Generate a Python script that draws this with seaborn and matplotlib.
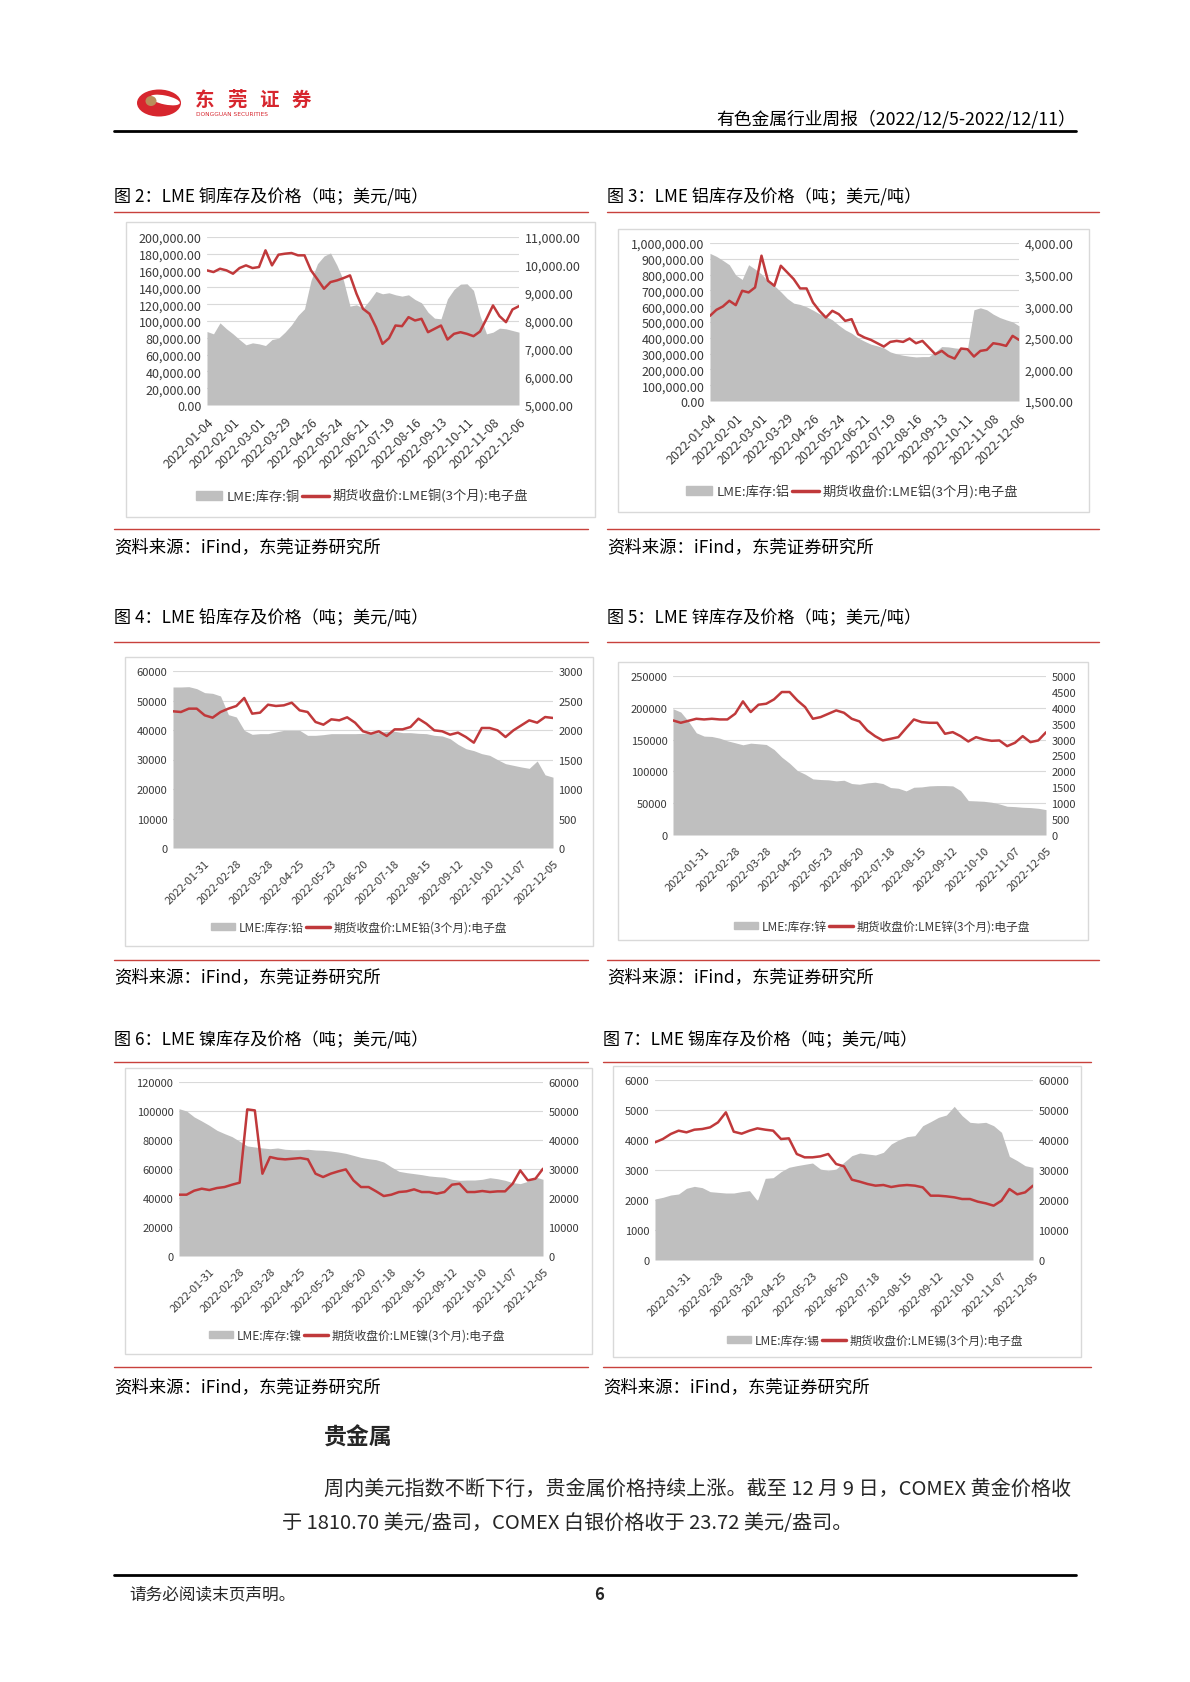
import matplotlib
matplotlib.use("Agg")
import matplotlib.pyplot as plt
import seaborn as sns
import pandas as pd
from matplotlib.patches import Rectangle, Patch, Ellipse
from matplotlib.lines import Line2D
from matplotlib.ticker import FuncFormatter, MultipleLocator

sns.set_style("white")
plt.rcParams["font.family"] = ["Noto Sans CJK SC", "DejaVu Sans"]

# ---------------- data (weekly readings) ----------------
dates_a = pd.date_range("2022-01-04", periods=49, freq="7D")   # copper / aluminium
dates_b = pd.date_range("2022-01-03", periods=49, freq="7D")   # lead / zinc / nickel / tin

cu_stock = [87500, 84700, 97800, 90700, 84700, 77900, 71600, 74000, 72800, 70800,
            77900, 79500, 86700, 95400, 106600, 114500, 148300, 168200, 177300, 181000,
            166200, 148300, 117700, 119300, 115300, 124500, 135200, 132400, 133600, 131200,
            129600, 131200, 125600, 121700, 110500, 103400, 102600, 126400, 137600, 143900,
            144300, 136400, 106600, 84700, 86700, 91500, 90700, 88700, 86700]
cu_price = [9808, 9748, 9867, 9808, 9689, 9891, 9987, 9891, 9927, 10524,
            9987, 10368, 10404, 10428, 10345, 10345, 9808, 9486, 9152, 9390,
            9450, 9533, 9629, 8973, 8436, 8257, 7780, 7183, 7386, 7839,
            7815, 8138, 8018, 8078, 7600, 7720, 7839, 7338, 7541, 7600,
            7541, 7458, 7624, 8078, 8555, 8174, 7959, 8412, 8531]

al_stock = [934400, 915400, 890000, 862500, 797000, 769500, 862500, 835000, 803300, 759000,
            729300, 691300, 649000, 619400, 611000, 596100, 575000, 551800, 534800, 513700,
            479900, 450300, 429100, 399500, 378400, 359400, 348800, 336100, 310800, 298100,
            289600, 283300, 279000, 281100, 281100, 310800, 344600, 342500, 336100, 331900,
            331900, 577100, 589800, 577100, 549600, 528500, 513700, 501000, 475600]
al_price = [2848, 2943, 2996, 3086, 3017, 3244, 3218, 3297, 3799, 3403,
            3323, 3640, 3535, 3429, 3281, 3281, 3059, 2927, 2821, 2927,
            2874, 2768, 2795, 2557, 2504, 2467, 2414, 2361, 2435, 2451,
            2435, 2488, 2414, 2451, 2346, 2240, 2293, 2213, 2171, 2330,
            2319, 2203, 2293, 2309, 2414, 2398, 2372, 2531, 2467]

pb_stock = [54580, 54580, 54690, 54010, 52660, 52430, 51530, 45200, 44410, 39890,
            38530, 38760, 38760, 39320, 39890, 39890, 39890, 38190, 38190, 38420,
            38760, 38760, 38760, 38760, 38870, 38870, 39100, 39550, 39550, 39100,
            39100, 38870, 38760, 38190, 37970, 37060, 35140, 33670, 33000, 31980,
            31410, 29950, 28590, 28020, 27460, 27000, 29500, 24800, 24000]
pb_price = [2317, 2305, 2362, 2362, 2249, 2209, 2305, 2362, 2407, 2543,
            2277, 2294, 2429, 2407, 2418, 2463, 2333, 2305, 2136, 2090,
            2181, 2164, 2215, 2124, 1978, 1938, 1978, 1898, 2011, 2011,
            2051, 2192, 2107, 1994, 1978, 1921, 1955, 1881, 1785, 2034,
            2034, 1994, 1881, 1994, 2079, 2164, 2124, 2220, 2204]

zn_stock = [198500, 193300, 178600, 160700, 155500, 154900, 152300, 148100, 145000, 141800,
            144400, 143400, 142300, 134500, 122400, 112900, 101400, 95600, 88200, 87200,
            86700, 85100, 86100, 80900, 79800, 81900, 83000, 80900, 74600, 73500,
            69300, 75100, 75600, 77200, 77700, 77700, 77200, 69900, 54100, 53600,
            53000, 51500, 48800, 45200, 44600, 43600, 43100, 42000, 39900]
zn_price = [3603, 3529, 3592, 3655, 3634, 3655, 3634, 3634, 3813, 4202,
            3866, 4097, 4128, 4265, 4496, 4496, 4233, 4023, 3655, 3708,
            3813, 3918, 3844, 3655, 3571, 3288, 3109, 2973, 3025, 3078,
            3361, 3634, 3550, 3529, 3529, 3183, 3235, 3109, 2941, 3078,
            3004, 2962, 2973, 2794, 2899, 3109, 2920, 2973, 3230]

ni_stock = [101600, 100000, 95900, 93100, 90100, 86700, 84400, 82300, 79100, 75900,
            75200, 74500, 74000, 74500, 73600, 73300, 73300, 73600, 73100, 72900,
            72400, 71700, 70800, 69400, 68000, 67100, 66400, 64800, 61400, 58400,
            57500, 56800, 56100, 55200, 54700, 54300, 52900, 52200, 52400, 52400,
            52900, 54000, 53300, 52200, 50600, 49900, 51500, 54500, 52900]
ni_price = [21140, 21140, 22520, 23210, 22750, 23440, 23780, 24590, 25280, 50560,
            50210, 28380, 34130, 33550, 33320, 33550, 33780, 33320, 28380, 27230,
            28380, 29190, 29870, 26080, 23780, 23780, 22290, 20680, 21140, 22060,
            22290, 22980, 22060, 22060, 21490, 22060, 24590, 24930, 22060, 22060,
            22410, 22060, 22290, 22290, 24930, 29530, 26080, 26660, 30100]

sn_stock = [2033, 2089, 2166, 2200, 2389, 2455, 2411, 2278, 2255, 2233,
            2233, 2278, 2311, 1978, 2722, 2744, 2944, 3089, 3144, 3189,
            3233, 3033, 2978, 3033, 3255, 3478, 3566, 3533, 3500, 3589,
            3866, 4011, 4111, 4144, 4477, 4611, 4755, 4833, 5122, 4811,
            4589, 4566, 4589, 4477, 4255, 3455, 3311, 3144, 3089]
sn_price = [39220, 40330, 42000, 43110, 42550, 43440, 43660, 44220, 45880, 49220,
            42770, 42110, 43110, 43880, 43440, 43110, 40330, 40550, 35330, 34220,
            34220, 34550, 35330, 32000, 31220, 26780, 26110, 25330, 24780, 25000,
            24330, 24780, 25000, 24780, 24220, 21440, 21440, 21220, 20890, 20330,
            20330, 19440, 18890, 18110, 19780, 23660, 21890, 22550, 24780]

# ---------------- page setup ----------------
W, H = 1190, 1683
GRAY = "#bfbfbf"
RED = "#c0393b"
RULE = "#c8413c"
TXT = "#3a3a3a"

fig = plt.figure(figsize=(W / 100, H / 100), dpi=100)
fig.patch.set_facecolor("white")


def fx(x):
    return x / W


def fy(y):
    return 1 - y / H


def rect(l, t, r, b):
    return [l / W, 1 - b / H, (r - l) / W, (b - t) / H]


def hline(x0, x1, y, color=RULE, lw=1.0):
    fig.add_artist(Line2D([fx(x0), fx(x1)], [fy(y), fy(y)], color=color, lw=lw))


def box(l, t, r, b):
    fig.add_artist(Rectangle((fx(l), fy(b)), (r - l) / W, (b - t) / H,
                             transform=fig.transFigure, fill=False, ec="#d9d9d9", lw=1))


def chart(pos, dates, stock, price, ylim_l, step_l, ylim_r, step_r, money, first_tick,
          name, tsize, dsize, leg_xy, lsize):
    ax = fig.add_axes(rect(*pos))
    ax.fill_between(dates, stock, color=GRAY, lw=0)
    ax.set_xlim(dates[0], dates[-1])
    ax.set_ylim(*ylim_l)
    ax.yaxis.set_major_locator(MultipleLocator(step_l))
    ax.grid(axis="y", color="#d9d9d9", lw=0.8)
    ax.set_axisbelow(True)
    ax2 = ax.twinx()
    sns.lineplot(x=dates, y=price, ax=ax2, color=RED, lw=1.8)
    ax2.set_ylim(*ylim_r)
    ax2.yaxis.set_major_locator(MultipleLocator(step_r))
    fmt = FuncFormatter(lambda v, p: f"{v:,.2f}" if money else f"{v:.0f}")
    ax.yaxis.set_major_formatter(fmt)
    ax2.yaxis.set_major_formatter(fmt)
    ticks = dates[first_tick::4]
    ax.set_xticks(ticks)
    ax.set_xticklabels([d.strftime("%Y-%m-%d") for d in ticks], rotation=45,
                       ha="right", rotation_mode="anchor")
    for a in (ax, ax2):
        a.set_xlabel("")
        a.set_ylabel("")
        for s in a.spines.values():
            s.set_visible(False)
        a.tick_params(length=0, labelsize=tsize, colors=TXT, pad=4)
    ax.tick_params(axis="x", pad=7, labelsize=dsize)
    handles = [Patch(color=GRAY), Line2D([], [], color=RED, lw=2.5)]
    labels = [f"LME:库存:{name}", f"期货收盘价:LME{name}(3个月):电子盘"]
    fig.legend(handles, labels, loc="center", bbox_to_anchor=(fx(leg_xy[0]), fy(leg_xy[1])),
               ncol=2, frameon=False, fontsize=lsize, handlelength=2.0, handleheight=0.6,
               handletextpad=0.3, columnspacing=0.2, labelcolor=TXT)


# ---------------- header ----------------
fig.add_artist(Ellipse((fx(159), fy(104)), 44 / W, 27 / H, transform=fig.transFigure,
                       color="#d7262e", lw=0))
fig.add_artist(Ellipse((fx(165), fy(101)), 30 / W, 9 / H, angle=-8, transform=fig.transFigure,
                       color="white", lw=0))
fig.add_artist(Ellipse((fx(151), fy(102)), 11 / W, 10 / H, transform=fig.transFigure,
                       color="#b98d5a", lw=0))
for i, ch in enumerate("东莞证券"):
    fig.text(fx(205 + 32 * i), fy(100), ch, color="#d7262e", fontsize=14, fontweight="bold",
             ha="center", va="center")
fig.text(fx(196), fy(114), "DONGGUAN SECURITIES", color="#d7262e", fontsize=4.2,
         va="center", family="DejaVu Sans")
fig.text(fx(1076), fy(119), "有色金属行业周报（2022/12/5-2022/12/11）", fontsize=12.8,
         ha="right", va="center", color="black")
hline(114, 1076, 132, color="black", lw=2)

# ---------------- chart titles / rules / sources ----------------
titles = [
    (114, 197, "图 2：LME 铜库存及价格（吨；美元/吨）"),
    (607, 197, "图 3：LME 铝库存及价格（吨；美元/吨）"),
    (114, 618, "图 4：LME 铅库存及价格（吨；美元/吨）"),
    (607, 618, "图 5：LME 锌库存及价格（吨；美元/吨）"),
    (114, 1040, "图 6：LME 镍库存及价格（吨；美元/吨）"),
    (603, 1040, "图 7：LME 锡库存及价格（吨；美元/吨）"),
]
for x, y, s in titles:
    fig.text(fx(x), fy(y), s, fontsize=12.3, va="center", color="black")

for y in (213, 530):
    hline(114, 588, y)
    hline(607, 1099, y)
for y in (643, 961):
    hline(114, 588, y)
    hline(607, 1099, y)
for y in (1063, 1368):
    hline(114, 588, y)
    hline(603, 1091, y)

for x, y in [(114, 547), (607, 547), (114, 977), (607, 977), (114, 1387), (603, 1387)]:
    fig.text(fx(x), fy(y), "资料来源：iFind，东莞证券研究所", fontsize=12.5, va="center",
             color="black")

box(126, 223, 595, 518)
box(618, 230, 1089, 513)
box(125, 658, 593, 947)
box(618, 663, 1088, 941)
box(125, 1069, 592, 1355)
box(613, 1067, 1081, 1358)

# ---------------- charts ----------------
chart((207, 238, 519, 406), dates_a, cu_stock, cu_price, (0, 200000), 20000, (5000, 11000), 1000,
      True, 0, "铜", 9, 9, (362, 497), 9.5)
chart((710, 244, 1019, 402), dates_a, al_stock, al_price, (0, 1000000), 100000, (1500, 4000), 500,
      True, 0, "铝", 9, 9, (852, 492), 9.5)
chart((173, 672, 553, 849), dates_b, pb_stock, pb_price, (0, 60000), 10000, (0, 3000), 500,
      False, 4, "铅", 8, 8, (359, 928), 8.5)
chart((673, 677, 1046, 836), dates_b, zn_stock, zn_price, (0, 250000), 50000, (0, 5000), 500,
      False, 4, "锌", 8, 8, (882, 927), 8.5)
chart((179, 1083, 543, 1257), dates_b, ni_stock, ni_price, (0, 120000), 20000, (0, 60000), 10000,
      False, 4, "镍", 8, 8, (357, 1336), 8.5)
chart((655, 1081, 1033, 1261), dates_b, sn_stock, sn_price, (0, 6000), 1000, (0, 60000), 10000,
      False, 4, "锡", 8, 8, (875, 1341), 8.5)

# ---------------- body text ----------------
fig.text(fx(324), fy(1438), "贵金属", fontsize=16.5, fontweight="bold", va="center")
fig.text(fx(324), fy(1489), "周内美元指数不断下行，贵金属价格持续上涨。截至 12 月 9 日，COMEX 黄金价格收",
         fontsize=14.5, va="center")
fig.text(fx(282), fy(1524), "于 1810.70 美元/盎司，COMEX 白银价格收于 23.72 美元/盎司。",
         fontsize=14.5, va="center")

hline(114, 1076, 1576, color="black", lw=2)
fig.text(fx(129), fy(1595), "请务必阅读末页声明。", fontsize=12, va="center")
fig.text(fx(599), fy(1595), "6", fontsize=12, fontweight="bold", va="center", ha="center")

fig.savefig("out.png", dpi=100)
